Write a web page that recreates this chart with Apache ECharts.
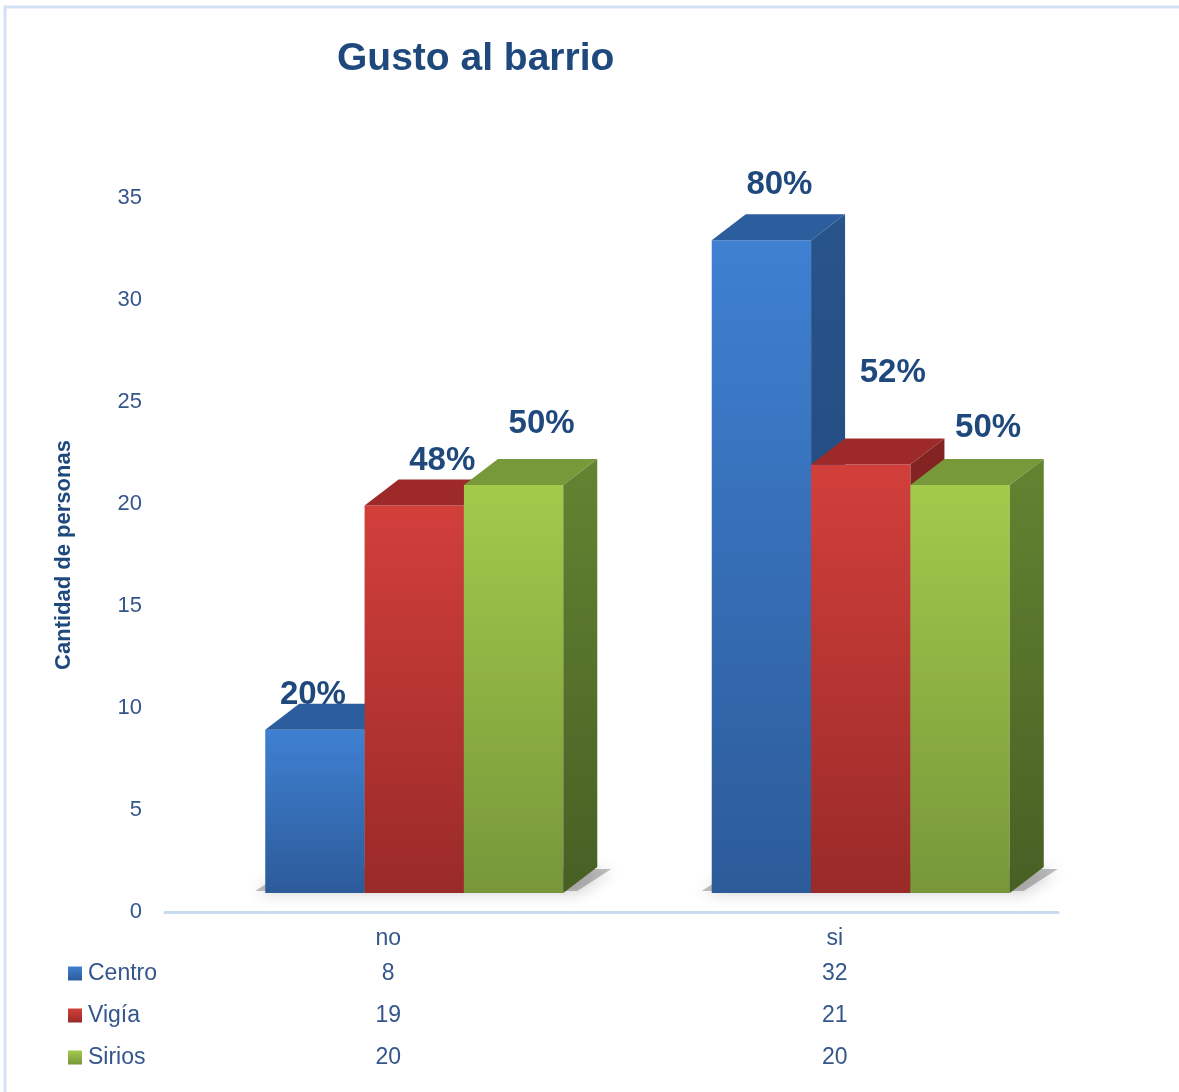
<!DOCTYPE html>
<html>
<head>
<meta charset="utf-8">
<script src="https://cdn.jsdelivr.net/npm/echarts@6/dist/echarts.min.js"></script>
<style>
  html, body { margin: 0; padding: 0; background: #ffffff; }
  #chart { width: 1179px; height: 1092px; }
</style>
</head>
<body>
<div id="chart"></div>
<script>
// ---------------- data ----------------
const categories = ['no', 'si'];
const seriesNames = ['Centro', 'Vigía', 'Sirios'];
const centroValues = [8, 32];
const vigiaValues = [19, 21];
const siriosValues = [20, 20];
const centroPct = [20, 80];
const vigiaPct = [48, 52];
const siriosPct = [50, 50];
const yMin = 0, yMax = 35, yInterval = 5;

// ---------------- style ----------------
const FONT = "'Liberation Sans', Arial, sans-serif";
const TEXT_BLUE = '#34568b';
const DARK_BLUE = '#1f497d';
const BAR_FRAC = 0.2225;     // bar width as fraction of the category band
const GROUP_SHIFT = 0.2755;  // group left edge relative to band centre
const LIFT = 19;             // front face floor sits above the axis line
const DX = 34, DY = -26;     // 3D depth offset
const LABEL_DX = 28, LABEL_DY = -56;
// small manual label nudges [series][category] -> [dx, dy]
const labelNudge = [[[-30, 21], [-10, 1]], [[0, 12], [4, -36]], [[0, -5], [0, -1]]];

const G = echarts.graphic.LinearGradient;
const palette = [
  { front: ['#3f80d2', '#2c5b99'], top: '#2c5d9c', side: ['#28548c', '#1f4574'] },
  { front: ['#d23f3b', '#992a28'], top: '#9d2a29', side: ['#842422', '#6e1d1b'] },
  { front: ['#a4ca4b', '#77973a'], top: '#78993a', side: ['#638431', '#485f24'] }
];

const valueLists = [centroValues, vigiaValues, siriosValues];
const pctLists = [centroPct, vigiaPct, siriosPct];

function geom(api, s, c, v) {
  const base = api.coord([c, 0]);
  const top = api.coord([c, v]);
  const catW = api.size([1, 0])[0];
  const bw = catW * BAR_FRAC;
  const x0 = base[0] - catW * GROUP_SHIFT + s * bw;
  return { x0: x0, x1: x0 + bw, yb: base[1] - LIFT, yt: top[1] - LIFT, bw: bw, catW: catW, cx: base[0] };
}

function barRenderer(s) {
  const p = palette[s];
  return function (params, api) {
    const c = api.value(0), v = api.value(1);
    const g = geom(api, s, c, v);
    return {
      type: 'group',
      children: [
        { type: 'polygon', shape: { points: [[g.x0, g.yt], [g.x1, g.yt], [g.x1, g.yb], [g.x0, g.yb]] },
          style: { fill: new G(0, 0, 0, 1, [{ offset: 0, color: p.front[0] }, { offset: 1, color: p.front[1] }]) } },
        { type: 'polygon', shape: { points: [[g.x0, g.yt], [g.x0 + DX, g.yt + DY], [g.x1 + DX, g.yt + DY], [g.x1, g.yt]] },
          style: { fill: p.top } },
        { type: 'polygon', shape: { points: [[g.x1, g.yt], [g.x1 + DX, g.yt + DY], [g.x1 + DX, g.yb + DY], [g.x1, g.yb]] },
          style: { fill: new G(0, 0, 0, 1, [{ offset: 0, color: p.side[0] }, { offset: 1, color: p.side[1] }]) } }
      ]
    };
  };
}

function shadowRenderer(params, api) {
  const c = api.value(0);
  const g0 = geom(api, 0, c, 0);
  const x0 = g0.x0, x3 = g0.x0 + 3 * g0.bw, yb = g0.yb;
  return {
    type: 'polygon',
    shape: { points: [[x0 - 10, yb - 2], [x0 + DX - 10, yb + DY + 2], [x3 + DX + 14, yb + DY + 2], [x3 + 14, yb - 2]] },
    style: { fill: 'rgba(60,60,60,0.32)', shadowBlur: 16, shadowColor: 'rgba(0,0,0,0.6)', shadowOffsetX: 0, shadowOffsetY: 2 }
  };
}

function labelRenderer(params, api) {
  const c = api.value(0), s = api.value(1), v = api.value(2), pct = api.value(3);
  const g = geom(api, s, c, v);
  const n = labelNudge[s][c];
  return {
    type: 'text',
    style: {
      x: (g.x0 + g.x1) / 2 + LABEL_DX + n[0],
      y: g.yt + LABEL_DY + n[1],
      text: pct + '%',
      fill: DARK_BLUE,
      font: 'bold 33px ' + FONT,
      align: 'center',
      verticalAlign: 'middle'
    }
  };
}

const series = [];
series.push({
  type: 'custom', name: '_shadow', z: 1, clip: false, silent: true,
  renderItem: shadowRenderer,
  data: categories.map(function (_, i) { return [i]; })
});
seriesNames.forEach(function (name, s) {
  series.push({
    type: 'custom', name: name, z: 2, clip: false,
    renderItem: barRenderer(s),
    itemStyle: { color: new G(0, 0, 0, 1, [{ offset: 0, color: palette[s].front[0] }, { offset: 1, color: palette[s].front[1] }]) },
    encode: { x: 0, y: 1 },
    data: valueLists[s].map(function (v, i) { return [i, v]; })
  });
});
const labelData = [];
seriesNames.forEach(function (name, s) {
  valueLists[s].forEach(function (v, i) { labelData.push([i, s, v, pctLists[s][i]]); });
});
series.push({
  type: 'custom', name: '_labels', z: 5, clip: false, silent: true,
  renderItem: labelRenderer,
  encode: { x: 0, y: 2 },
  data: labelData
});

const chart = echarts.init(document.getElementById('chart'), null, { renderer: 'canvas' });
chart.setOption({
  backgroundColor: '#ffffff',
  animation: false,
  title: {
    text: 'Gusto al barrio',
    left: 337, top: 40, padding: 0,
    textStyle: { color: DARK_BLUE, fontFamily: FONT, fontWeight: 'bold', fontSize: 39 }
  },
  grid: { left: 165, right: 121, top: 198, bottom: 180, containLabel: false },
  legend: {
    data: seriesNames,
    orient: 'vertical',
    left: 68, top: 962,
    icon: 'rect',
    itemWidth: 14, itemHeight: 14, itemGap: 19,
    padding: 0,
    textStyle: { color: TEXT_BLUE, fontFamily: FONT, fontSize: 23, padding: [0, 0, 0, 1] },
    selectedMode: false
  },
  xAxis: {
    type: 'category',
    data: categories,
    axisTick: { show: false },
    axisLine: { lineStyle: { color: '#c8daf0', width: 3 } },
    axisLabel: {
      margin: 13,
      formatter: function (val, idx) {
        return '{c|' + val + '}\n{v|' + centroValues[idx] + '}\n{v|' + vigiaValues[idx] + '}\n{v|' + siriosValues[idx] + '}';
      },
      rich: {
        c: { fontFamily: FONT, fontSize: 23, color: TEXT_BLUE, lineHeight: 28, align: 'center' },
        v: { fontFamily: FONT, fontSize: 23, color: TEXT_BLUE, lineHeight: 42, align: 'center' }
      }
    }
  },
  yAxis: {
    type: 'value',
    min: yMin, max: yMax, interval: yInterval,
    name: 'Cantidad de personas',
    nameLocation: 'middle',
    nameRotate: 90,
    nameGap: 90,
    nameTextStyle: { color: DARK_BLUE, fontFamily: FONT, fontWeight: 'bold', fontSize: 22 },
    axisLine: { show: false },
    axisTick: { show: false },
    splitLine: { show: false },
    axisLabel: { margin: 23, color: TEXT_BLUE, fontFamily: FONT, fontSize: 22, lineHeight: 26, padding: [4, 0, 0, 0] }
  },
  graphic: [{
    type: 'rect', silent: true, z: -1,
    shape: { x: 5, y: 7, width: 1300, height: 1300 },
    style: { fill: 'none', stroke: '#d3e2f3', lineWidth: 3 }
  }],
  series: series
});
</script>
</body>
</html>
